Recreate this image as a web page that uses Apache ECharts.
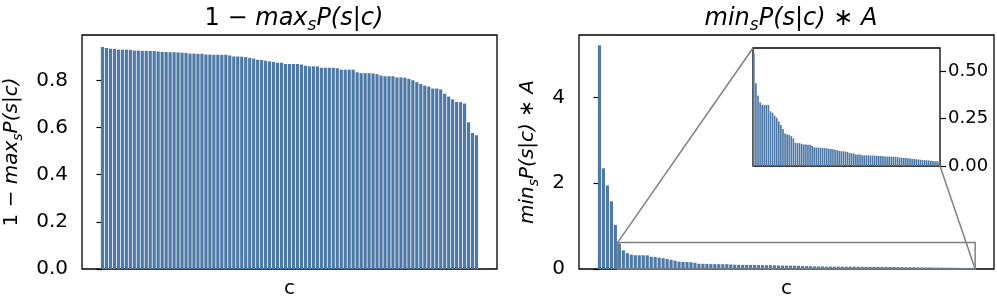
<!DOCTYPE html>
<html><head><meta charset="utf-8">
<script src="https://cdn.jsdelivr.net/npm/echarts@6/dist/echarts.min.js"></script>
<style>html,body{margin:0;padding:0;background:#fff}#c{width:997px;height:304px}</style>
</head><body><div id="c"></div>
<script>
// ---- data ----
const oneMinusMax = [0.942,0.938,0.935,0.934,0.931,0.931,0.931,0.930,0.927,0.927,
0.926,0.926,0.925,0.925,0.923,0.921,0.921,0.920,0.920,0.919,
0.918,0.917,0.914,0.914,0.913,0.913,0.910,0.910,0.909,0.909,
0.909,0.909,0.906,0.902,0.902,0.901,0.899,0.896,0.893,0.888,
0.887,0.884,0.881,0.878,0.875,0.875,0.870,0.870,0.870,0.870,
0.868,0.863,0.860,0.860,0.860,0.854,0.854,0.854,0.854,0.852,
0.846,0.846,0.846,0.846,0.835,0.831,0.831,0.831,0.830,0.827,
0.821,0.818,0.818,0.818,0.813,0.813,0.812,0.807,0.801,0.793,
0.785,0.778,0.774,0.766,0.766,0.762,0.744,0.732,0.720,0.709,
0.708,0.702,0.623,0.577,0.568];
const minTimesA = [5.22,2.35,1.95,1.58,1.03,0.594,0.435,0.370,0.335,0.322,
0.320,0.320,0.320,0.287,0.280,0.264,0.254,0.234,0.215,0.194,
0.171,0.166,0.163,0.157,0.145,0.122,0.120,0.120,0.115,0.113,
0.113,0.112,0.111,0.106,0.099,0.097,0.097,0.096,0.095,0.094,
0.092,0.091,0.089,0.088,0.086,0.083,0.080,0.078,0.077,0.076,
0.074,0.068,0.067,0.066,0.061,0.060,0.060,0.057,0.056,0.056,
0.056,0.055,0.055,0.055,0.054,0.053,0.053,0.051,0.050,0.050,
0.050,0.049,0.049,0.048,0.047,0.044,0.043,0.042,0.042,0.041,
0.039,0.038,0.037,0.036,0.034,0.033,0.032,0.031,0.030,0.029,
0.027,0.026,0.025,0.025,0.024];
const categories = oneMinusMax.map((_, i) => i);
const leftTicks = [0, 0.2, 0.4, 0.6, 0.8];
const rightTicks = [0, 2, 4];
const insetTicks = [0, 0.25, 0.5];
const insetStart = 5;
const leftMax = 0.993, rightMax = 5.46, insetMax = 0.62;

// ---- layout/styles ----
const FF = 'DejaVu Sans';
const BAR = '#4e79a7';
const n = categories.length;
const span = n - 0.2;
const xLo = -0.4 - 0.05 * span, xHi = n - 0.6 + 0.05 * span;
const inLo = insetStart - 0.4, inHi = n - 1 + 0.4;

const rich = (fs) => ({
  r: {fontFamily: FF, fontSize: fs, fontWeight: 'normal', color: '#000', lineHeight: Math.round(fs * 1.3)},
  i: {fontFamily: FF, fontSize: fs, fontWeight: 'normal', fontStyle: 'italic', color: '#000', lineHeight: Math.round(fs * 1.3)},
  s: {fontFamily: FF, fontSize: Math.round(fs * 0.7), fontWeight: 'normal', fontStyle: 'italic', color: '#000',
      verticalAlign: 'bottom', lineHeight: Math.round(fs * 0.45)}
});
const t1 = '{r|1 − }{i|max}{s|s}{i|P(s|c)}';
const t2 = '{i|min}{s|s}{i|P(s|c)}{r| ∗ }{i|A}';

const mkX = (gi, lo, hi, name) => ({
  type: 'value', gridIndex: gi, min: lo, max: hi,
  axisLine: {show: false}, axisTick: {show: false}, axisLabel: {show: false}, splitLine: {show: false},
  name: name, nameLocation: 'middle', nameGap: 10,
  nameTextStyle: {fontFamily: FF, fontSize: 20, color: '#000', verticalAlign: 'top'}
});
const mkY = (gi, max, ticks, dec, opts) => Object.assign({
  type: 'value', gridIndex: gi, min: 0, max: max,
  axisLine: {show: false}, splitLine: {show: false},
  axisTick: {show: true, length: 6, customValues: ticks, lineStyle: {color: '#000', width: 1.2}},
  axisLabel: {customValues: ticks, margin: 14, fontFamily: FF, fontSize: 20, color: '#000',
    formatter: v => dec === 0 ? String(Math.round(v)) : v.toFixed(dec)}
}, opts || {});

const gridStyle = {show: true, borderColor: '#000', borderWidth: 1.3, backgroundColor: '#fff'};

const chart = echarts.init(document.getElementById('c'), null, {renderer: 'canvas'});
chart.setOption({
  animation: false,
  title: [
    {text: t1, left: 289, top: -2, textAlign: 'center', textStyle: {fontWeight: 'normal', rich: rich(24)}},
    {text: t2, left: 786, top: -2, textAlign: 'center', textStyle: {fontWeight: 'normal', rich: rich(24)}}
  ],
  grid: [
    Object.assign({left: 82, top: 35, width: 415, height: 237}, gridStyle),
    Object.assign({left: 579, top: 35, width: 415, height: 237}, gridStyle),
    Object.assign({left: 753, top: 48, width: 187, height: 118, z: 10}, gridStyle)
  ],
  xAxis: [
    mkX(0, xLo, xHi, 'c'),
    mkX(1, xLo, xHi, 'c'),
    Object.assign(mkX(2, inLo, inHi, ''), {z: 10})
  ],
  yAxis: [
    mkY(0, leftMax, leftTicks, 1, {name: t1, nameLocation: 'middle', nameRotate: 90, nameGap: 57,
      nameTextStyle: {rich: rich(20)}}),
    mkY(1, rightMax, rightTicks, 0, {name: t2, nameLocation: 'middle', nameRotate: 90, nameGap: 38,
      nameTextStyle: {rich: rich(20)}}),
    Object.assign(mkY(2, insetMax, insetTicks, 2), {position: 'right', z: 10,
      axisLabel: {customValues: insetTicks, margin: 8, fontFamily: FF, fontSize: 18, color: '#000', formatter: v => v.toFixed(2)}})
  ],
  series: [
    {type: 'bar', xAxisIndex: 0, yAxisIndex: 0, barWidth: '80%', itemStyle: {color: BAR},
      data: categories.map((c, i) => [c, oneMinusMax[i]])},
    {type: 'bar', xAxisIndex: 1, yAxisIndex: 1, barWidth: '80%', itemStyle: {color: BAR},
      data: categories.map((c, i) => [c, minTimesA[i]])},
    {type: 'bar', xAxisIndex: 2, yAxisIndex: 2, barWidth: '80%', itemStyle: {color: BAR}, z: 12,
      data: categories.slice(insetStart).map((c, i) => [c, minTimesA[i + insetStart]])}
  ]
});

// zoom indicator rectangle and connectors, from axis coordinates
const a = chart.convertToPixel({gridIndex: 1}, [inLo, insetMax]);
const b = chart.convertToPixel({gridIndex: 1}, [inHi, 0]);
const ia = chart.convertToPixel({gridIndex: 2}, [inLo, insetMax]);
const ib = chart.convertToPixel({gridIndex: 2}, [inHi, 0]);
const gs = {stroke: '#808080', lineWidth: 1.5, fill: null};
chart.setOption({
  graphic: [
    {type: 'rect', shape: {x: a[0], y: a[1], width: b[0] - a[0], height: b[1] - a[1]}, style: gs, z: 50},
    {type: 'line', shape: {x1: a[0], y1: a[1], x2: ia[0], y2: ia[1]}, style: gs, z: 50},
    {type: 'line', shape: {x1: b[0], y1: b[1], x2: ib[0], y2: ib[1]}, style: gs, z: 50}
  ]
});
</script>
</body></html>
